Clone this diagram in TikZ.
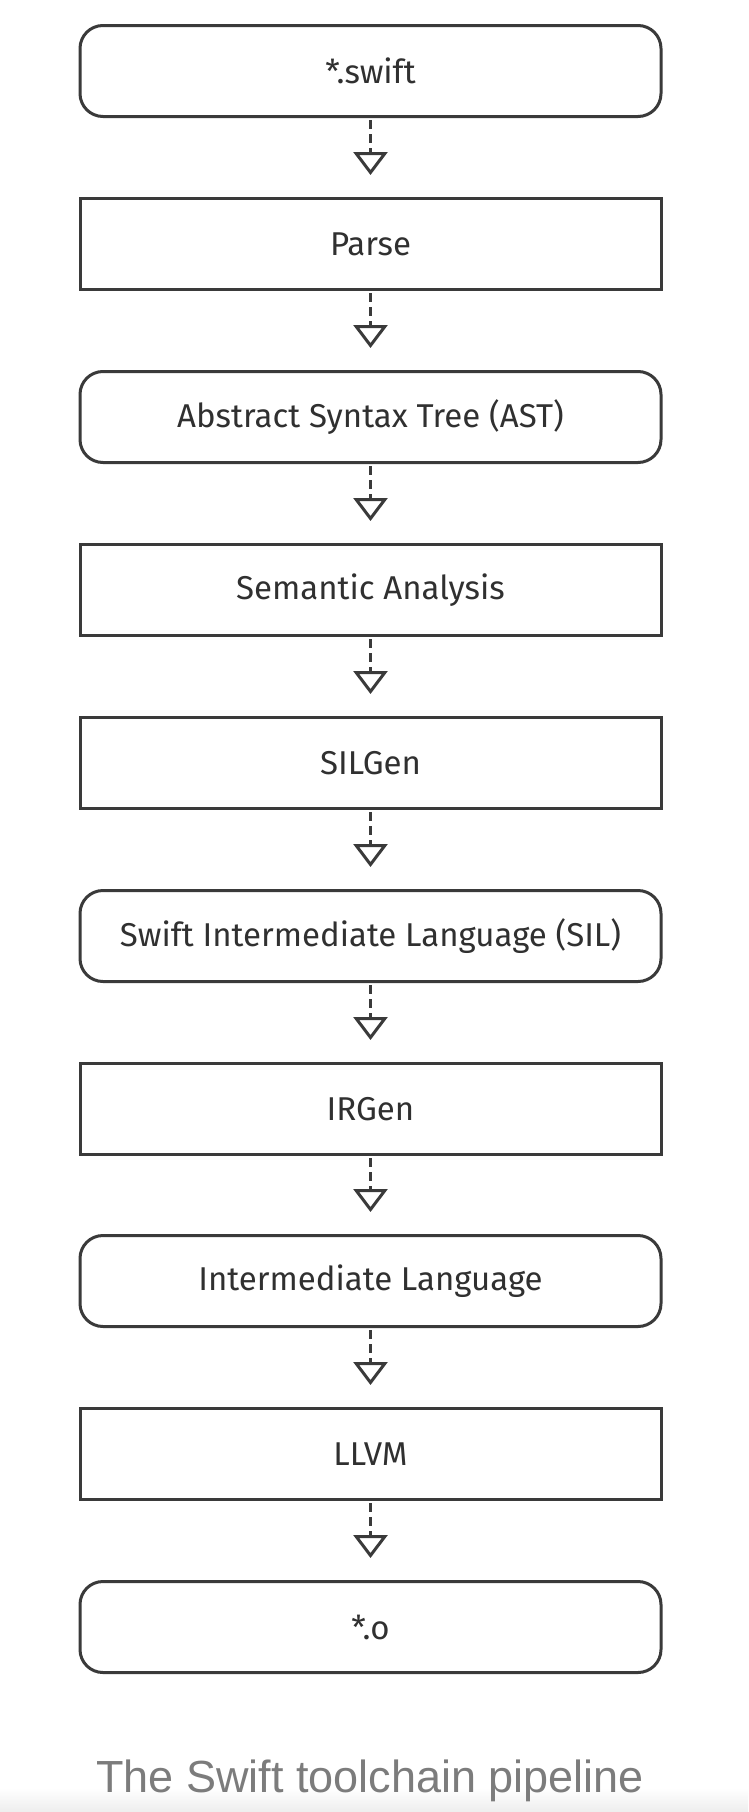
\documentclass[tikz,border=0pt]{standalone}
\usepackage{fontspec}
\setmainfont{Fira Sans}
\newfontfamily\capfont{Liberation Sans}
\usepackage{tikz}
\usetikzlibrary{arrows.meta}
\definecolor{edgegray}{HTML}{3A3A3A}
\definecolor{labelgray}{HTML}{303030}
\definecolor{captiongray}{HTML}{7C7C7C}

\begin{document}
\begin{tikzpicture}[x=1pt,y=1pt,yscale=-1,xscale=1,
  stage/.style={draw=edgegray,line width=3pt,text=labelgray,minimum width=581pt,minimum height=91pt,inner sep=0pt,font=\fontsize{33}{38}\selectfont},
  artefact/.style={stage,rounded corners=23pt},
  pipe/.style={draw=edgegray,line width=3pt,dash pattern={on 9pt off 5pt},shorten <=2pt,shorten >=22pt,
    -{Triangle[open,length=23pt,width=34pt]}}]
%set diagram left start at 0, and has height of 1812
\useasboundingbox (0,0) rectangle (748,1812);
\fill[white] (0,0) rectangle (748,1812);
%bottom strip
\shade[top color=white,bottom color=black!7] (0,1788) rectangle (748,1812);

% Nodes
\node[artefact] (swift) at (370.5,71) {*.swift};
\node[stage] (parse) at (370.5,244) {Parse};
\node[artefact] (ast) at (370.5,417) {Abstract Syntax Tree (AST)};
\node[stage] (sema) at (370.5,590) {Semantic Analysis};
\node[stage] (silgen) at (370.5,763) {SILGen};
\node[artefact] (sil) at (370.5,936) {Swift Intermediate Language (SIL)};
\node[stage] (irgen) at (370.5,1109) {IRGen};
\node[artefact] (ir) at (370.5,1281) {Intermediate Language};
\node[stage] (llvm) at (370.5,1454) {LLVM};
\node[artefact] (obj) at (370.5,1627) {*.o};

% Connectors
\draw[pipe] (swift) -- (parse);
\draw[pipe] (parse) -- (ast);
\draw[pipe] (ast) -- (sema);
\draw[pipe] (sema) -- (silgen);
\draw[pipe] (silgen) -- (sil);
\draw[pipe] (sil) -- (irgen);
\draw[pipe] (irgen) -- (ir);
\draw[pipe] (ir) -- (llvm);
\draw[pipe] (llvm) -- (obj);

% Caption
\node[text=captiongray,font=\capfont\fontsize{45}{50}\selectfont,anchor=base] (caption) at (370,1792) {The Swift toolchain pipeline};

\end{tikzpicture}
\end{document}
